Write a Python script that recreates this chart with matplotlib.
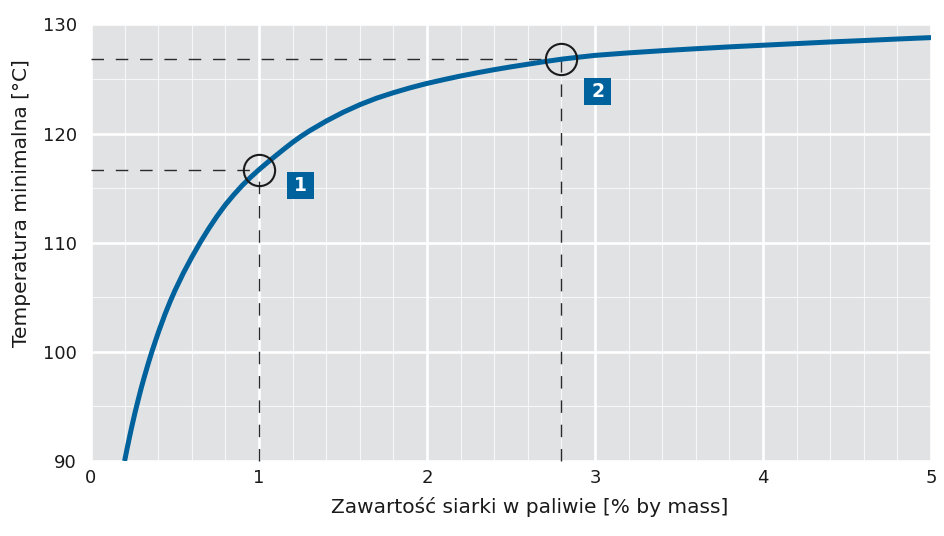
import matplotlib
matplotlib.use("Agg")
import matplotlib.pyplot as plt
from matplotlib.patches import Rectangle
from matplotlib.ticker import MultipleLocator

# ---- data ----
sulfur = [0.2, 0.215, 0.23, 0.245, 0.263, 0.28, 0.3, 0.32, 0.34, 0.362,
          0.4, 0.44, 0.472, 0.5, 0.55, 0.6, 0.65, 0.7, 0.75, 0.8, 0.85,
          0.9, 0.95, 1.0, 1.05, 1.1, 1.15, 1.2, 1.25, 1.3, 1.35, 1.4,
          1.5, 1.6, 1.7, 1.8, 1.9, 2.0, 2.1, 2.2, 2.3, 2.4, 2.5, 2.6,
          2.7, 2.8, 2.9, 3.0, 3.2, 3.4, 3.6, 3.8, 4.0, 4.2, 4.4, 4.6,
          4.8, 5.0]
temp_min = [90.0, 91.15, 92.25, 93.3, 94.5, 95.55, 96.75, 97.85, 98.9, 100.0,
            101.75, 103.43, 104.65, 105.63, 107.23, 108.68, 110.03, 111.28,
            112.43, 113.48, 114.4, 115.25, 116.0, 116.7, 117.35, 117.98,
            118.6, 119.2, 119.75, 120.25, 120.7, 121.15, 121.95, 122.65,
            123.25, 123.75, 124.2, 124.6, 124.95, 125.28, 125.58, 125.86,
            126.12, 126.36, 126.6, 126.82, 127.0, 127.17, 127.4, 127.6,
            127.78, 127.95, 128.1, 128.25, 128.4, 128.53, 128.67, 128.8]

marked_x = [1.0, 2.8]
marked_y = [116.7, 126.85]
marker_labels = ["1", "2"]
label_pos_x = [1.247, 3.015]
label_pos_y = [115.27, 123.9]

x_ticks = [0, 1, 2, 3, 4, 5]
y_ticks = [90, 100, 110, 120, 130]

BLUE = "#00629c"
BG = "#e1e2e4"
TXT = "#1a1a1a"

plt.rcParams['font.family'] = ['DejaVu Sans']

fig = plt.figure(figsize=(9.45, 5.36), dpi=100)
ax = fig.add_axes([91/945, 1 - 461/536, (931-91)/945, (461-24.5)/536])
ax.set_facecolor(BG)
ax.set_xlim(0, 5)
ax.set_ylim(90, 130)

ax.set_xticks(x_ticks)
ax.set_yticks(y_ticks)
ax.xaxis.set_minor_locator(MultipleLocator(0.2))
ax.yaxis.set_minor_locator(MultipleLocator(5))
ax.grid(which='major', color='white', lw=1.9, zorder=0)
ax.grid(which='minor', color='white', lw=0.8, alpha=0.75, zorder=0)
ax.set_axisbelow(True)
for s in ax.spines.values():
    s.set_visible(False)
ax.tick_params(which='both', length=0)
ax.tick_params(axis='x', pad=6, labelsize=13, colors=TXT)
ax.tick_params(axis='y', pad=10, labelsize=13, colors=TXT)

# dashed guide lines
for mx, my in zip(marked_x, marked_y):
    ax.plot([0, mx], [my, my], color='#2a2a2a', lw=1.0,
            linestyle=(0, (9, 8.5)), zorder=2, clip_on=False)
    ax.plot([mx, mx], [90, my], color='#2a2a2a', lw=1.0,
            linestyle=(0, (9, 8.5)), zorder=2, clip_on=False)

# curve
ax.plot(sulfur, temp_min, color=BLUE, lw=3.6, solid_capstyle='butt',
        solid_joinstyle='round', zorder=3)

# circles
ax.plot(marked_x, marked_y, linestyle='none', marker='o', markersize=22.5,
        markerfacecolor='none', markeredgecolor=TXT, markeredgewidth=1.5,
        zorder=4)

# numbered boxes
bw = 27 / 168.0
bh = 27 / (436.5 / 40)
for lx, ly, lab in zip(label_pos_x, label_pos_y, marker_labels):
    ax.add_patch(Rectangle((lx - bw/2, ly - bh/2), bw, bh, facecolor=BLUE,
                           edgecolor='none', zorder=5))
    ax.text(lx, ly, lab, color='white', fontsize=13.5, fontweight='bold',
            ha='center', va='center', zorder=6)

ax.set_xlabel("Zawartość siarki w paliwie [% by mass]", fontsize=14.5,
              color=TXT)
ax.set_ylabel("Temperatura minimalna [°C]", fontsize=14.5, color=TXT)
ax.xaxis.set_label_coords((530-91)/840, (461-497)/436.5)
ax.yaxis.set_label_coords((31-91)/840, (461-203)/436.5)

fig.savefig("out.png", dpi=100)
